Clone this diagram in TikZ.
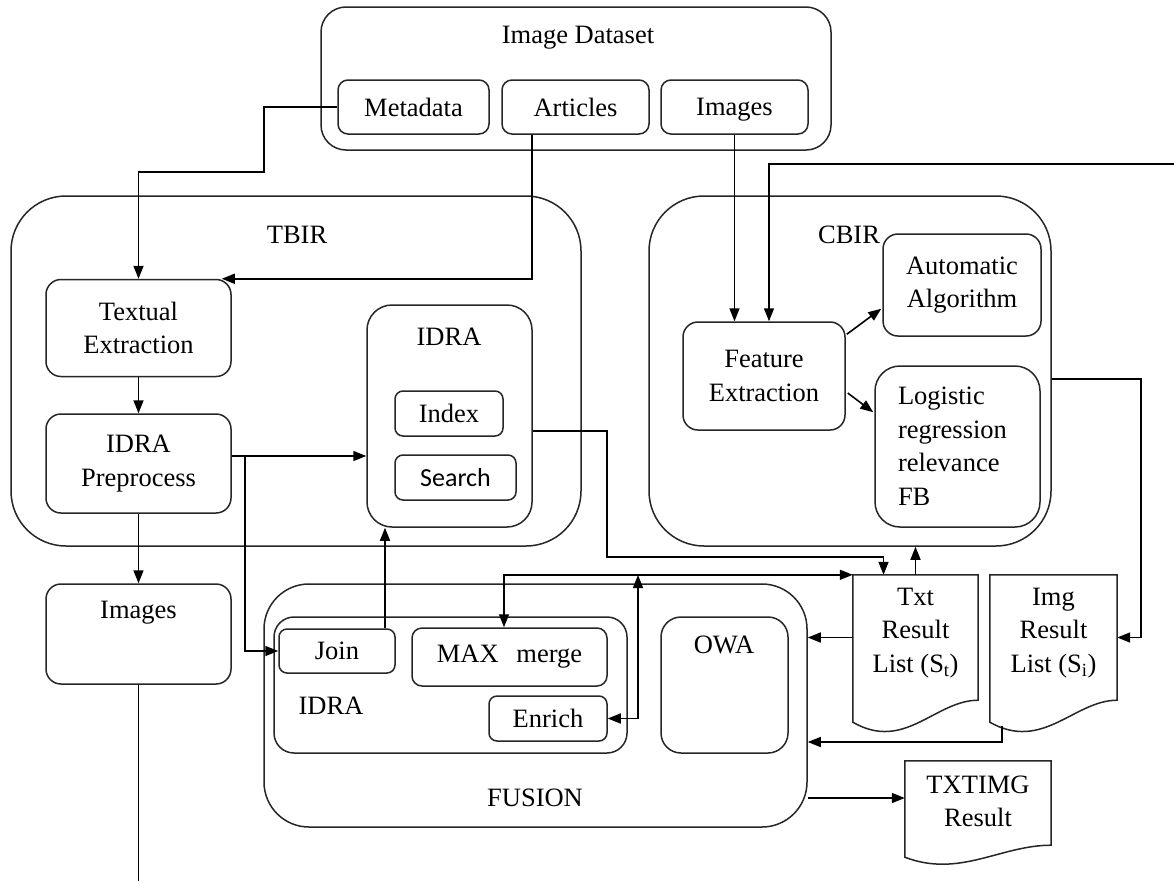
\documentclass[tikz,border=0pt]{standalone}
\usepackage{fontspec}
\setmainfont{Liberation Serif}
\newfontfamily\calibrifont{Carlito}
\usetikzlibrary{arrows.meta,calc}
\newcommand\mydoc[5]{\draw[docline] (#1.north west) -- (#1.north east) -- (#1.south east) .. controls ($(#1.south east)+(#2,0)$) and ($(#1.south west)+(#3,#4)$) .. ($(#1.south west)+(0,#5)$) -- cycle;}
\begin{document}
\begin{tikzpicture}[x=1pt,y=-1pt,
  every node/.style={font=\fontsize{26.5}{33.5}\selectfont, inner sep=0pt},
  box/.style={draw=black!85, line width=1.5pt, rounded corners=#1},
  box/.default=10pt,
  arr/.style={line width=1.6pt, -{Triangle[length=13pt,width=10pt]}},
  arrb/.style={line width=1.6pt, {Triangle[length=13pt,width=10pt]}-{Triangle[length=13pt,width=10pt]}},
  ln/.style={line width=1.6pt},
  docline/.style={draw=black!85, line width=1.5pt},
  lbl/.style={align=center},
]
\path[use as bounding box, fill=white] (0,0) rectangle (1174,881);

% Image Dataset
\node[box=25pt, minimum width=510pt, minimum height=143pt] (ds) at (576,78.5) {};
\node[lbl] (dst) at (578,38) {Image Dataset};
\node[box, minimum width=151pt, minimum height=54pt] (meta) at (413.5,107) {Metadata};
\node[box, minimum width=147pt, minimum height=54pt] (art) at (575.5,107) {Articles};
\node[box, minimum width=147pt, minimum height=54pt, text depth=0pt] (imgt) at (734.5,107) {Images};

% TBIR
\node[box=55pt, minimum width=570pt, minimum height=350pt] (tbir) at (296,371) {};
\node[lbl] (tbirl) at (297,235) {TBIR};
\node[box=15pt, minimum width=185pt, minimum height=97pt, align=center] (te) at (138.5,328) {Textual\\Extraction};
\node[box=15pt, minimum width=185pt, minimum height=99pt, align=center] (pre) at (138.5,463.5) {IDRA\\Preprocess};
\node[box=25pt, minimum width=165pt, minimum height=222pt] (idra1) at (449.5,416) {};
\node[lbl] (idra1l) at (449,337) {IDRA};
\node[box=8pt, minimum width=108pt, minimum height=45pt] (idx) at (449,413.5) {Index};
\node[box=8pt, minimum width=121pt, minimum height=45pt, font=\calibrifont\fontsize{26}{30}\selectfont] (srch) at (455.5,477.5) {Search};

% CBIR
\node[box=55pt, minimum width=402pt, minimum height=350pt] (cbir) at (850,371) {};
\node[lbl] (cbirl) at (849,235) {CBIR};
\node[box=15pt, minimum width=158pt, minimum height=102pt, align=center] (aa) at (962,285) {Automatic\\Algorithm};
\node[box=15pt, minimum width=162pt, minimum height=108pt, align=center] (fe) at (764,376) {Feature\\Extraction};
\node[box=25pt, minimum width=165pt, minimum height=161pt, text width=119pt, align=left] (lr) at (957.5,446.5) {Logistic\\regression\\relevance\\FB};

% Images (left)
\node[box=15pt, minimum width=185pt, minimum height=100pt] (imgl) at (138.5,634) {};
\node[lbl] (imgll) at (138.5,613) {Images};

% FUSION
\node[box=45pt, minimum width=543pt, minimum height=243pt] (fusion) at (535.5,705.5) {};
\node[lbl] (fusl) at (535,798) {FUSION};
\node[box=20pt, minimum width=353pt, minimum height=136pt] (idra2) at (450.5,685) {};
\node[lbl] (idra2l) at (331,706) {IDRA};
\node[box=8pt, minimum width=116pt, minimum height=44pt] (join) at (337,651) {Join};
\node[box=10pt, minimum width=195pt, minimum height=58pt] (maxm) at (509.5,657) {MAX\hspace{0.67em}merge};
\node[box=8pt, minimum width=118pt, minimum height=45pt] (enr) at (548,718.5) {Enrich};
\node[box=20pt, minimum width=127pt, minimum height=136pt] (owa) at (724.5,685) {};
\node[lbl] (owal) at (724,645) {OWA};

% documents
\node[minimum width=125pt, minimum height=125pt] (txt) at (915.5,637.5) {};
\mydoc{txt}{-43}{52}{52}{22}
\node[lbl] (txtl) at (915.5,633) {Txt\\Result\\List (S\textsubscript{t})};
\node[minimum width=127pt, minimum height=125pt] (img) at (1053.5,637.5) {};
\mydoc{img}{-43}{53}{52}{22}
\node[lbl] (imgl2) at (1053.5,633) {Img\\Result\\List (S\textsubscript{i})};
\node[minimum width=146pt, minimum height=84pt] (txtimg) at (978,803) {};
\mydoc{txtimg}{-51}{55}{33}{12}
\node[lbl] (txtimgl) at (978,801.5) {TXTIMG\\Result};

% connectors
\draw[arr] (meta.west) -- (264,107) -- (264,172) -| (te.north);
\draw[arr] ($(art.south)+(-43.5,0)$) |- ($(te.north east)+(-10,0)$);
\draw[arr] (imgt.south) -- (imgt.south |- fe.north);
\coordinate (fb) at (1174,164);
\draw[arr] (fb) -| ($(fe.north)+(5,0)$);
\draw[arr] (te.south) -- (pre.north);
\coordinate (br) at (245,456);
\draw[arr] (pre.east |- br) -- (idra1.west |- br);
\draw[arr] (br) |- (join.west);
\draw[arr] (pre.south) -- (imgl.north);
\coordinate (bot) at (138.5,881);
\draw[ln] (imgl.south) -- (bot);
\draw[arr] (idra1.east |- 0,431) -| (607,557) -| ($(txt.north)+(-32,0)$);
\coordinate (jt) at ($(join.north)+(48,0)$);
\draw[arr] (jt) -- (jt |- idra1.south);
\draw[arr] (txt.north) -- (txt.north |- cbir.south);
\coordinate (mt) at ($(maxm.north)+(-5.5,0)$);
\draw[arrb] (mt) |- (txt.north west);
\coordinate (jn) at (638,575);
\draw[arrb] (enr.east) -| (jn);
\draw[arr] (txt.west) -- (txt.west -| fusion.east);
\coordinate (imgw) at ($(img.south west)+(12,26)$);
\draw[arr] (imgw) |- (fusion.east |- 0,742);
\draw[arr] (cbir.east |- 0,379) -- (1141,379) |- (img.east);
\draw[arr] (fusion.east |- 0,798) -- (txtimg.west |- 0,798);
\draw[arr] ($(fe.north east)+(1,13)$) -- ($(aa.south west)+(-1,-28)$);
\draw[arr] ($(fe.east)+(2,17)$) -- ($(lr.north west)+(-1,47)$);
\end{tikzpicture}
\end{document}
